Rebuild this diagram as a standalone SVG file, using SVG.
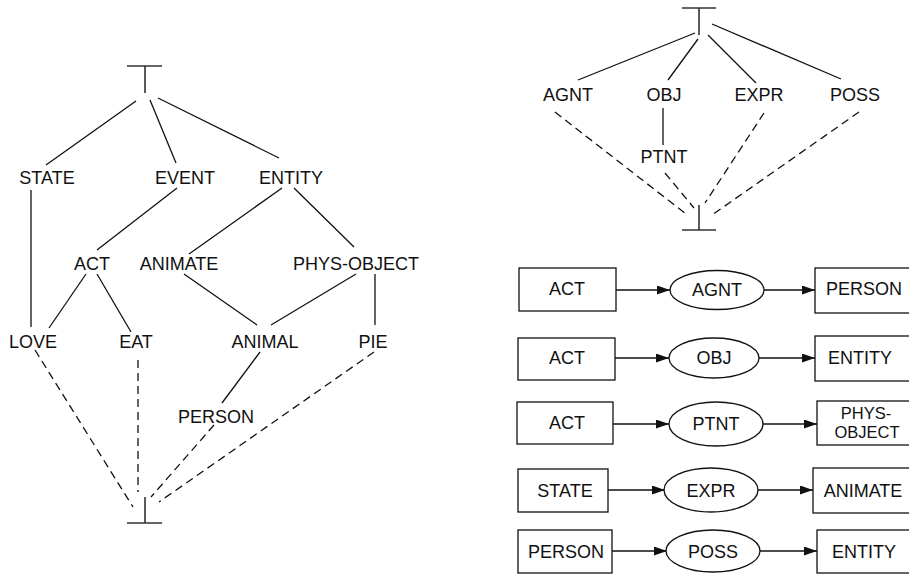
<svg xmlns="http://www.w3.org/2000/svg" width="909" height="577" viewBox="0 0 909 577">
<style>
text{font-family:"Liberation Sans",Arial,sans-serif;font-size:18px;fill:#111;text-anchor:middle}
.s{stroke:#111;stroke-width:1.3;fill:none}
.d{stroke:#111;stroke-width:1.3;fill:none;stroke-dasharray:8,5}
.tb{stroke:#333;stroke-width:1.6;fill:none}
.box{fill:#fff;stroke:#111;stroke-width:1.3}
.a{stroke:#111;stroke-width:1.3;fill:none;marker-end:url(#ah)}
</style>
<defs>
<marker id="ah" markerUnits="userSpaceOnUse" markerWidth="13" markerHeight="10" refX="13" refY="4.5" orient="auto">
<path d="M0,0 L13,4.5 L0,9 z" fill="#111"/>
</marker>
</defs>
<rect width="909" height="577" fill="#fff"/>

<!-- Left lattice -->
<g id="connectors-left">
<line class="s" x1="136" y1="101" x2="46" y2="165"/>
<line class="s" x1="150" y1="100" x2="176" y2="163"/>
<line class="s" x1="158" y1="98" x2="279" y2="158"/>
<line class="s" x1="31" y1="190" x2="31" y2="327"/>
<line class="s" x1="177" y1="188" x2="97" y2="250"/>
<line class="s" x1="282" y1="188" x2="189" y2="254"/>
<line class="s" x1="294" y1="188" x2="354" y2="247"/>
<line class="s" x1="86" y1="274" x2="49" y2="328"/>
<line class="s" x1="97" y1="274" x2="131" y2="332"/>
<line class="s" x1="184" y1="274" x2="257" y2="325"/>
<line class="s" x1="356" y1="274" x2="271" y2="325"/>
<line class="s" x1="375" y1="274" x2="375" y2="325"/>
<line class="s" x1="260" y1="352" x2="222" y2="403"/>
<line class="d" x1="35" y1="350" x2="133" y2="507"/>
<line class="d" x1="138" y1="360" x2="138" y2="492"/>
<line class="d" x1="214" y1="425" x2="151" y2="497"/>
<line class="d" x1="374" y1="352" x2="159" y2="502"/>
</g>
<g id="top-left"><path class="tb" d="M127,66 H162 M145,66 V93"/></g>
<g id="bottom-left"><path class="tb" d="M127,523 H162 M145,523 V497"/></g>
<g id="l-state"><text x="47" y="184">STATE</text></g>
<g id="l-event"><text x="185" y="184">EVENT</text></g>
<g id="l-entity"><text x="291" y="184">ENTITY</text></g>
<g id="l-act"><text x="92" y="270">ACT</text></g>
<g id="l-animate"><text x="179" y="270">ANIMATE</text></g>
<g id="l-physobject"><text x="356" y="270">PHYS-OBJECT</text></g>
<g id="l-love"><text x="33" y="348">LOVE</text></g>
<g id="l-eat"><text x="136" y="348">EAT</text></g>
<g id="l-animal"><text x="265" y="348">ANIMAL</text></g>
<g id="l-pie"><text x="373" y="348">PIE</text></g>
<g id="l-person"><text x="216" y="423">PERSON</text></g>

<!-- Right top lattice -->
<g id="connectors-right-top">
<line class="s" x1="695" y1="33" x2="578" y2="80"/>
<line class="s" x1="698" y1="39" x2="668" y2="80"/>
<line class="s" x1="708" y1="35" x2="756" y2="83"/>
<line class="s" x1="712" y1="24" x2="841" y2="79"/>
<line class="s" x1="663" y1="108" x2="663" y2="145"/>
<line class="d" x1="555" y1="112" x2="686" y2="214"/>
<line class="d" x1="665" y1="173" x2="694" y2="208"/>
<line class="d" x1="764" y1="113" x2="705" y2="203"/>
<line class="d" x1="859" y1="112" x2="712" y2="215"/>
</g>
<g id="top-right"><path class="tb" d="M682,8 H716 M699,8 V35"/></g>
<g id="bottom-right"><path class="tb" d="M682,230 H716 M699,230 V205"/></g>
<g id="r-agnt"><text x="568" y="101">AGNT</text></g>
<g id="r-obj"><text x="664" y="101">OBJ</text></g>
<g id="r-expr"><text x="759" y="101">EXPR</text></g>
<g id="r-poss"><text x="855" y="101">POSS</text></g>
<g id="r-ptnt"><text x="664" y="163">PTNT</text></g>

<!-- Relation rows -->
<g id="connectors-rows">
<line class="a" x1="616" y1="290" x2="670" y2="290"/>
<line class="a" x1="764" y1="290" x2="815" y2="290"/>
<line class="a" x1="615" y1="358" x2="669" y2="358"/>
<line class="a" x1="759" y1="358" x2="815" y2="358"/>
<line class="a" x1="613" y1="424" x2="669" y2="424"/>
<line class="a" x1="763" y1="424" x2="817" y2="424"/>
<line class="a" x1="608" y1="490" x2="665" y2="490"/>
<line class="a" x1="758" y1="490" x2="813" y2="490"/>
<line class="a" x1="612" y1="551" x2="667" y2="551"/>
<line class="a" x1="760" y1="551" x2="817" y2="551"/>
</g>

<g id="row1-act"><rect class="box" x="519" y="268" width="97" height="43"/><text x="567" y="295">ACT</text></g>
<g id="row1-agnt"><ellipse class="box" cx="717" cy="290" rx="47" ry="19.5"/><text x="717" y="296">AGNT</text></g>
<g id="row1-person"><rect class="box" x="815" y="268" width="100" height="45"/><text x="864" y="295">PERSON</text></g>

<g id="row2-act"><rect class="box" x="518" y="338" width="97" height="42"/><text x="567" y="364">ACT</text></g>
<g id="row2-obj"><ellipse class="box" cx="714" cy="358" rx="45" ry="20"/><text x="714" y="364">OBJ</text></g>
<g id="row2-entity"><rect class="box" x="815" y="336" width="100" height="45"/><text x="860" y="364">ENTITY</text></g>

<g id="row3-act"><rect class="box" x="517" y="402" width="96" height="42"/><text x="567" y="429">ACT</text></g>
<g id="row3-ptnt"><ellipse class="box" cx="716" cy="424" rx="47" ry="22"/><text x="716" y="430">PTNT</text></g>
<g id="row3-physobject"><rect class="box" x="817" y="401" width="98" height="44"/><text x="866" y="419" style="font-size:16.5px">PHYS-</text><text x="867" y="438" style="font-size:16.5px">OBJECT</text></g>

<g id="row4-state"><rect class="box" x="518" y="469" width="90" height="43"/><text x="565" y="497">STATE</text></g>
<g id="row4-expr"><ellipse class="box" cx="711" cy="490" rx="47" ry="22"/><text x="711" y="497">EXPR</text></g>
<g id="row4-animate"><rect class="box" x="813" y="468" width="102" height="45"/><text x="863" y="497">ANIMATE</text></g>

<g id="row5-person"><rect class="box" x="518" y="530" width="94" height="43"/><text x="566" y="558">PERSON</text></g>
<g id="row5-poss"><ellipse class="box" cx="713" cy="551" rx="47" ry="21"/><text x="713" y="558">POSS</text></g>
<g id="row5-entity"><rect class="box" x="817" y="530" width="98" height="43"/><text x="864" y="558">ENTITY</text></g>
</svg>
